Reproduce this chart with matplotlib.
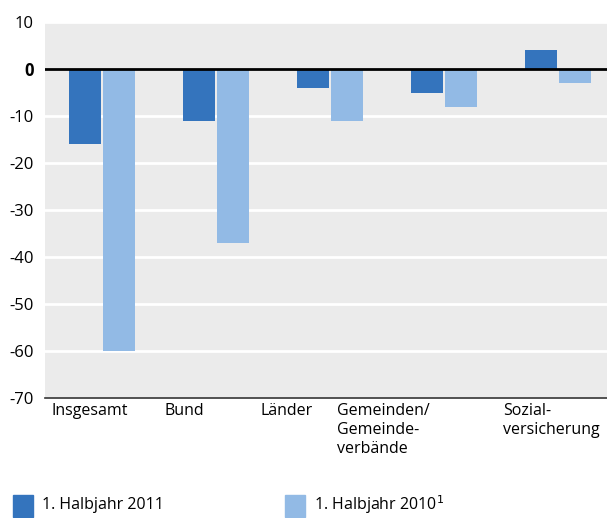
import matplotlib
matplotlib.use("Agg")
import matplotlib.pyplot as plt
import matplotlib.patches as mpatches
import matplotlib.transforms as mtransforms
import numpy as np

plt.rcParams['font.family'] = ['Open Sans', 'DejaVu Sans']

categories = ["Insgesamt", "Bund", "Länder", "Gemeinden/\nGemeinde-\nverbände", "Sozial-\nversicherung"]
h2011 = [-16, -11, -4, -5, 4]
h2010 = [-60, -37, -11, -8, -3]
series_labels = ["1. Halbjahr 2011", "1. Halbjahr 2010$^1$"]
yticks = [10, 0, -10, -20, -30, -40, -50, -60, -70]

dark = "#3474bd"
light = "#92bae5"

fig = plt.figure(figsize=(6.07, 5.18), dpi=100)
ax = fig.add_axes([45 / 607, (518 - 398) / 518, 562 / 607, 376 / 518])
ax.set_facecolor("#ebebeb")

x = np.arange(len(categories))
w = 0.28
ax.bar(x - 0.15, h2011, w, color=dark, zorder=3)
ax.bar(x + 0.15, h2010, w, color=light, zorder=3)

ax.set_ylim(-70, 10)
ax.set_xlim(-0.5, 4.43)
ax.set_yticks(yticks)
ax.set_yticklabels([str(v) for v in yticks], fontsize=12)
for lbl in ax.get_yticklabels():
    if lbl.get_text() == "0":
        lbl.set_fontweight("bold")
ax.yaxis.grid(True, color="white", linewidth=2, zorder=1)
ax.axhline(0, color="black", linewidth=2, zorder=4)
ax.tick_params(axis="y", length=0, pad=8)
ax.set_xticks([])
for s in ["top", "right", "left"]:
    ax.spines[s].set_visible(False)
ax.spines["bottom"].set_color("#333333")
ax.spines["bottom"].set_linewidth(1.2)

# category labels, left-aligned below each group
label_x = [-0.44, 0.55, 1.39, 2.06, 3.52]
trans = mtransforms.blended_transform_factory(ax.transData, ax.transAxes)
for lx, cat in zip(label_x, categories):
    ax.text(lx, -0.012, cat, transform=trans, ha="left", va="top",
            multialignment="left", fontsize=11.5, linespacing=1.25)

fig.text(42 / 607, 1 - 505 / 518, series_labels[0], fontsize=11.5, va="center")
fig.text(314 / 607, 1 - 505 / 518, series_labels[1], fontsize=11.5, va="center")
fig.patches.append(mpatches.Rectangle((13 / 607, 1 - 517 / 518), 20 / 607, 22 / 518,
                                      transform=fig.transFigure, color=dark, figure=fig))
fig.patches.append(mpatches.Rectangle((285 / 607, 1 - 517 / 518), 20 / 607, 22 / 518,
                                      transform=fig.transFigure, color=light, figure=fig))

fig.savefig("out.png", dpi=100)
